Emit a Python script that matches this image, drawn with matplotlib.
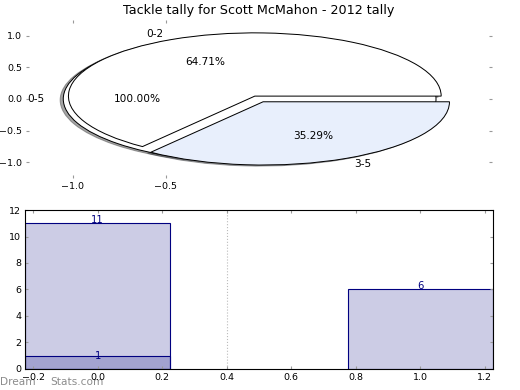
import matplotlib
matplotlib.use("Agg")
import matplotlib.pyplot as plt

# ---- data ----
title = "Tackle tally for Scott McMahon - 2012 tally"
total_labels = ["0-5"]
total_values = [17]
split_labels = ["0-2", "3-5"]
split_values = [11, 6]
bar_positions = [0, 1]
bar_heights = [11, 6]
sub_positions = [0]
sub_heights = [1]
pie_yticks = [-1.0, -0.5, 0.0, 0.5, 1.0]
pie_xticks = [-1.0, -0.5]
bar_xticks = [-0.2, 0.0, 0.2, 0.4, 0.6, 0.8, 1.0, 1.2]
bar_yticks = [0, 2, 4, 6, 8, 10, 12]
divider_x = 0.4

navy = "#000080"
fig = plt.figure(figsize=(6.5, 4.875), dpi=80)

# ---- top: pie ----
ax1 = fig.add_axes([0.050, 0.5436, 0.896, 0.4054])
wp = dict(edgecolor="black", linewidth=0.9)
shadow = {"ox": -0.015, "oy": -0.015}
ax1.pie(total_values, labels=total_labels, colors=["white"], explode=[0.05],
        autopct="%1.2f%%", shadow=shadow, wedgeprops=wp,
        textprops=dict(fontsize=9.5))
ax1.pie(split_values, labels=split_labels, colors=["white", "#e8effc"],
        explode=[0.05, 0.05], autopct="%1.2f%%", shadow=shadow, wedgeprops=wp,
        textprops=dict(fontsize=9.5))
ax1.set_aspect("auto")
ax1.set_xlim(-1.25, 1.25)
ax1.set_ylim(-1.25, 1.25)
ax1.set_frame_on(False)
ax1.set_xticks(pie_xticks)
ax1.set_yticks(pie_yticks)
ax1.tick_params(direction="in", color="#999999", length=3, width=1,
                top=True, right=True, labelsize=8.5)
ax1.set_title(title, fontsize=11.5, pad=5)

# ---- bottom: bars ----
ax2 = fig.add_axes([0.048, 0.054, 0.900, 0.4075])
ax2.axvline(divider_x, color="#bbbbbb", linestyle=":", linewidth=1, zorder=0)
ax2.bar(bar_positions, bar_heights, width=0.45,
        facecolor=(0, 0, 0.5, 0.2), edgecolor=navy, linewidth=1)
ax2.bar(sub_positions, sub_heights, width=0.45,
        facecolor=(0, 0, 0.5, 0.2), edgecolor=navy, linewidth=1)
for x, h in zip(bar_positions, bar_heights):
    ax2.text(x, h, str(h), color=navy, ha="center", va="baseline", fontsize=9)
for x, h in zip(sub_positions, sub_heights):
    ax2.text(x, h, str(h), color=navy, ha="center", va="center", fontsize=9)
ax2.set_xlim(-0.225, 1.225)
ax2.set_ylim(0, 12)
ax2.set_xticks(bar_xticks)
ax2.set_yticks(bar_yticks)
ax2.tick_params(direction="in", color="#999999", length=3, width=1,
                top=True, right=True, labelsize=8.5)
for s in ax2.spines.values():
    s.set_linewidth(1)

# watermark
fig.text(0.0, 0.012, "Dream", color="#8c8c8c", fontsize=9.5, zorder=-1)
fig.text(0.096, 0.012, "Stats.com", color="#8c8c8c", fontsize=9.5, zorder=-1)

fig.savefig("out.png", dpi=80)
